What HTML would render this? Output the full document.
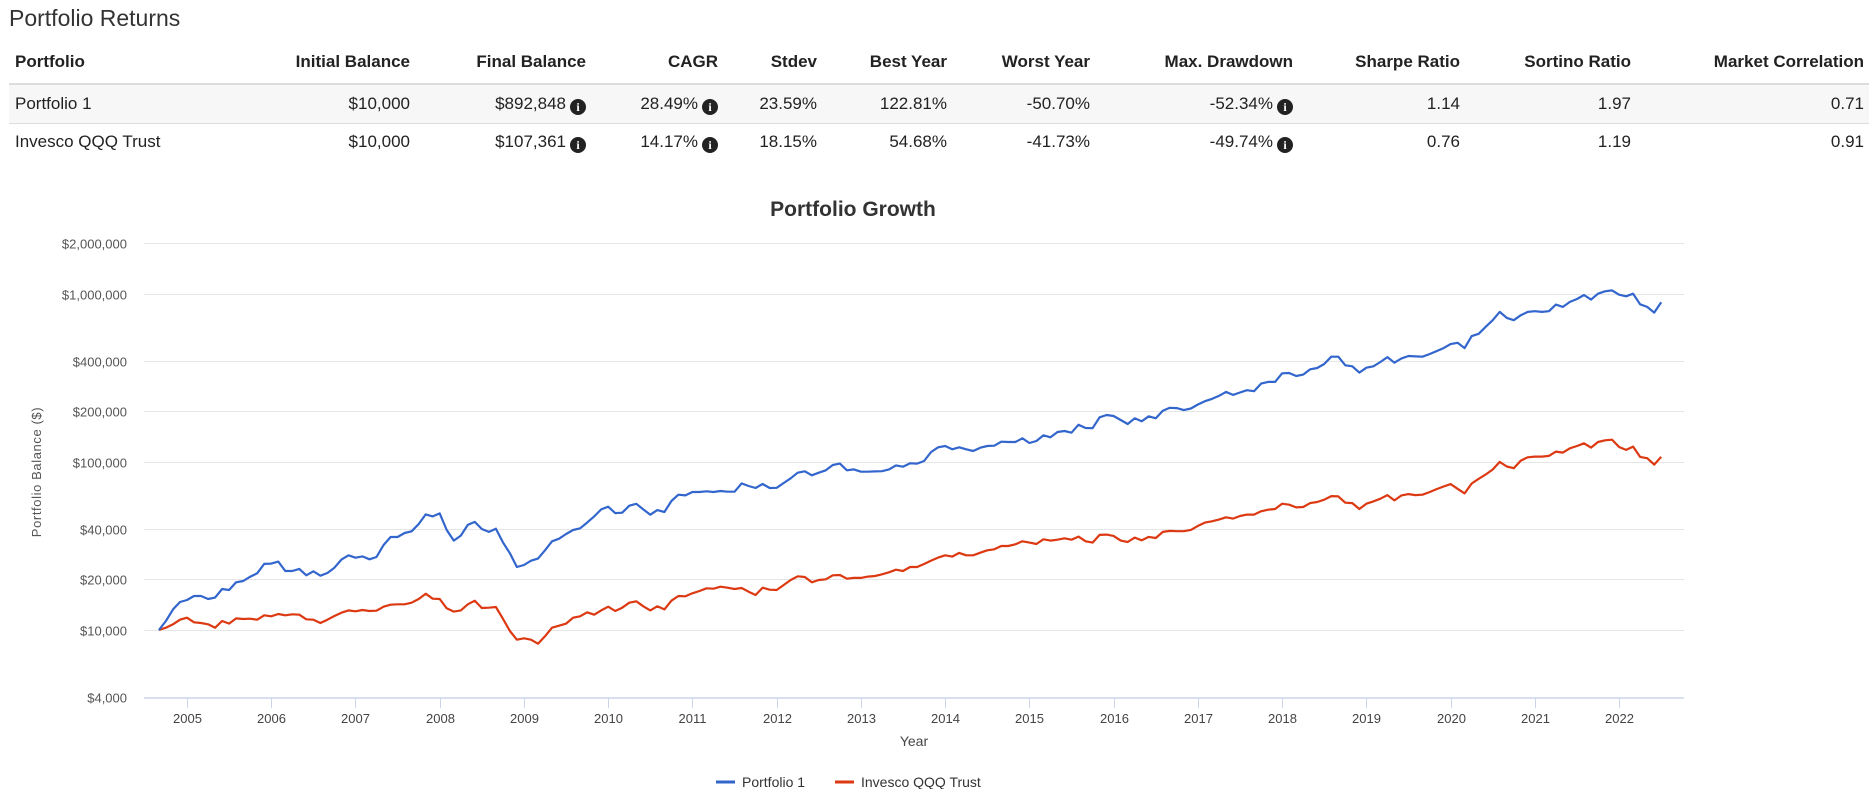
<!DOCTYPE html>
<html><head><meta charset="utf-8">
<style>
body{margin:0;width:1872px;height:789px;background:#fff;font-family:"Liberation Sans",Arial,sans-serif;color:#333;position:relative;overflow:hidden}
.t{position:absolute;white-space:nowrap;font-size:17px;line-height:20px;color:#222}
.h{font-weight:bold;color:#222}
.ic{display:inline-block;width:16px;height:16px;border-radius:50%;background:#222;color:#fff;font-size:12px;line-height:16px;text-align:center;font-weight:bold;font-family:"Liberation Serif",serif;vertical-align:-2px;margin-left:4px}
</style></head><body>
<div style="position:absolute;left:9px;top:5px;font-size:23px;color:#333">Portfolio Returns</div>
<div style="position:absolute;left:9px;top:83px;width:1860px;height:2px;background:#ddd"></div>
<div style="position:absolute;left:9px;top:85px;width:1860px;height:38px;background:#f7f7f7"></div>
<div style="position:absolute;left:9px;top:123px;width:1860px;height:1px;background:#ddd"></div>
<div id="tbl"></div>
<svg id="chart" width="1872" height="789" style="position:absolute;left:0;top:0"></svg>
<script>
// ---------- table ----------
const headers=["Initial Balance","Final Balance","CAGR","Stdev","Best Year","Worst Year","Max. Drawdown","Sharpe Ratio","Sortino Ratio","Market Correlation"];
const rowNames=["Portfolio 1","Invesco QQQ Trust"];
const row1=["$10,000","$892,848","28.49%","23.59%","122.81%","-50.70%","-52.34%","1.14","1.97","0.71"];
const row2=["$10,000","$107,361","14.17%","18.15%","54.68%","-41.73%","-49.74%","0.76","1.19","0.91"];
const infoCols=[1,2,6];
const edges=[410,586,718,817,947,1090,1293,1460,1631,1864];
const tbl=document.getElementById('tbl');
function cell(txt,top,right,cls,name,icon){
  const d=document.createElement('div');
  d.className='t '+cls;
  d.style.top=top+'px';
  if(right===null){d.style.left='15px';}else{d.style.right=(1872-right)+'px';}
  d.textContent=txt;
  if(icon){const s=document.createElement('span');s.className='ic';s.textContent='i';
    
    
    d.appendChild(s);}
  
  
  tbl.appendChild(d);
}
cell("Portfolio",52,null,'h','header-portfolio',false);
headers.forEach((h,i)=>cell(h,52,edges[i],'h','header-'+h.toLowerCase().replace(/[^a-z]+/g,'-'),false));
[row1,row2].forEach((r,ri)=>{
  const top=ri===0?94:132;
  cell(rowNames[ri],top,null,'','row-name',false);
  r.forEach((v,i)=>cell(v,top,edges[i],'','cell-value',infoCols.includes(i)));
});

// ---------- chart data ----------
const startYear=2004, startMonth=9;
const portfolio1=[10000,11310,13270,14680,15090,15940,15940,15290,15580,17550,17300,19230,19580,20760,21750,24730,24830,25520,22460,22460,23090,21150,22360,21060,21850,23500,26240,27830,26940,27440,26360,27200,32080,35780,35780,37800,38670,42780,48780,47470,49460,39380,34030,36460,42200,43970,39930,38340,40110,33260,28600,23710,24370,25870,26600,29800,33710,34960,37290,39380,40300,43570,47470,52210,54160,49660,49880,54910,56420,52210,48570,51730,
50400,58600,63900,63300,66300,66300,66900,66300,67200,66600,66600,74600,72000,70000,74000,70000,70200,75000,80000,86400,88000,83300,86400,89200,96000,97800,89200,90400,87500,87500,87900,88200,90400,95500,93800,98200,97800,101400,114700,122300,124500,119000,122300,119000,116200,121700,124500,125100,132100,131500,131500,138300,129700,133400,144200,140200,150800,152900,149500,166800,159400,159000,184500,190400,187800,177800,168300,181900,174600,187000,181900,
201700,210200,209200,203600,208300,220000,230200,237600,247500,261500,250900,259100,267500,263900,292900,299700,299700,337300,338800,325200,331200,356200,362700,383100,423300,423300,376200,371100,340400,364300,371100,393700,421400,390100,413800,427300,425400,423300,439000,457400,476500,503300,512600,476500,561400,579400,637600,698300,782300,720800,698300,747500,782300,789500,782300,789500,864800,837600,896800,934100,986500,925500,1004600,1037000,1051200,990900,968700,1004600,868700,837600,775300,892848];
const qqq=[10000,10320,10810,11520,11840,11110,11010,10810,10320,11310,10910,11730,11630,11680,11520,12230,12060,12450,12230,12400,12340,11580,11520,11010,11520,12110,12680,13090,12920,13150,12980,13030,13770,14150,14220,14220,14540,15290,16450,15360,15290,13460,12860,13090,14220,14950,13520,13580,13710,11680,9860,8760,8920,8760,8290,9170,10320,10610,10910,11840,12060,12740,12340,13090,13770,12980,13580,14540,14810,13830,13090,13830,
13270,14940,15940,15870,16530,17060,17700,17620,18110,17860,17540,17780,16910,16160,17860,17380,17300,18530,19840,20870,20680,19230,19840,20030,21160,21260,20210,20410,20410,20780,20970,21470,22060,22860,22460,23710,23710,24710,25880,26960,27840,27350,28750,27840,27840,28860,29800,30220,31620,31620,32360,33740,33120,32510,34680,34030,34490,35140,34490,35990,33740,33120,36820,36990,36330,34030,33420,35470,34190,35830,35300,
38360,38880,38710,38710,39420,41640,43570,44370,45390,46860,46020,47720,48600,48600,50860,52020,52500,56460,55700,53710,53950,56970,57760,59640,62690,62400,57230,56970,52500,56460,58280,60440,63550,59080,63260,64420,63550,63840,66200,68960,71520,73830,69280,65010,74510,79430,84260,90200,100100,93970,91860,101980,106700,107700,107700,108700,115300,113800,120600,124600,129200,121800,131600,134600,135800,122900,118000,123500,107200,105300,96560,107361];
const yTicks=[4000,10000,20000,40000,100000,200000,400000,1000000,2000000];
const yTickLabels=["$4,000","$10,000","$20,000","$40,000","$100,000","$200,000","$400,000","$1,000,000","$2,000,000"];
const xTicks=[2005,2006,2007,2008,2009,2010,2011,2012,2013,2014,2015,2016,2017,2018,2019,2020,2021,2022];

// ---------- axes ----------
const NS='http://www.w3.org/2000/svg';
const svg=document.getElementById('chart');
const PL=144, PR=1684;
function xScale(t){return 187+(t-2005)*84.24;}
function yScale(v){return 630-168*Math.log10(v/10000);}
function monthT(i){return startYear+(startMonth-1)/12+i/12;}
function el(tag,attrs,parent){const e=document.createElementNS(NS,tag);for(const k in attrs)e.setAttribute(k,attrs[k]);(parent||svg).appendChild(e);return e;}

const title=el('text',{x:853,y:216,'text-anchor':'middle','font-size':21,'font-weight':'bold',fill:'#333','font-family':'Liberation Sans, Arial, sans-serif'});
title.textContent='Portfolio Growth';



yTicks.forEach((v,i)=>{
  const y=Math.round(yScale(v))+0.5;
  if(i>0){
    const g=el('line',{x1:PL,x2:PR,y1:y,y2:y,stroke:'#e6e6e6','stroke-width':1});
    
    
  }
  const t=el('text',{x:127,y:y+5,'text-anchor':'end','font-size':13,fill:'#555','font-family':'Liberation Sans, Arial, sans-serif'});
  t.textContent=yTickLabels[i];
  
  
});
const axis=el('line',{x1:PL,x2:PR,y1:698,y2:698,stroke:'#ccd6eb','stroke-width':1.5});


xTicks.forEach(yr=>{
  const x=Math.round(xScale(yr))+0.5;
  const tk=el('line',{x1:x,x2:x,y1:698,y2:708,stroke:'#ccd6eb','stroke-width':1});
  
  
  const t=el('text',{x:x,y:723,'text-anchor':'middle','font-size':13,fill:'#444','font-family':'Liberation Sans, Arial, sans-serif'});
  t.textContent=yr;
  
  
});
const xt=el('text',{x:914,y:746,'text-anchor':'middle','font-size':14,fill:'#444','font-family':'Liberation Sans, Arial, sans-serif'});
xt.textContent='Year';


const yt=el('text',{x:0,y:0,'text-anchor':'middle','font-size':13,fill:'#555','font-family':'Liberation Sans, Arial, sans-serif','letter-spacing':'0.6',transform:'translate(41,472) rotate(-90)'});
yt.textContent='Portfolio Balance ($)';



function series(data,color,name){
  const pts=data.map((v,i)=>xScale(monthT(i)).toFixed(1)+','+yScale(v).toFixed(1)).join(' ');
  const p=el('polyline',{points:pts,fill:'none',stroke:color,'stroke-width':2.2,'stroke-linejoin':'round'});
  
  
}
series(qqq,'#dc3912','series-invesco-qqq');
series(portfolio1,'#3366cc','series-portfolio-1');

// legend
const lg=[['Portfolio 1','#3366cc',716],['Invesco QQQ Trust','#dc3912',835]];
lg.forEach(([n,c,x])=>{
  const l=el('line',{x1:x,x2:x+19,y1:782,y2:782,stroke:c,'stroke-width':3});
  
  
  const t=el('text',{x:x+26,y:787,'font-size':14,fill:'#333','font-family':'Liberation Sans, Arial, sans-serif'});
  t.textContent=n;
  
  
});
</script>
</body></html>
